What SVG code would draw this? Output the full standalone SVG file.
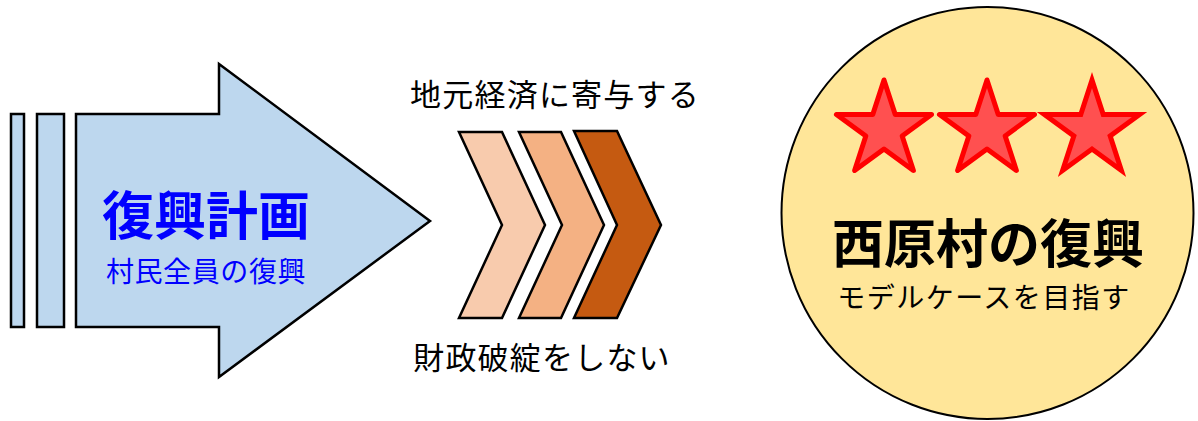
<svg xmlns="http://www.w3.org/2000/svg" width="1198" height="421" viewBox="0 0 1198 421">
<style>
.shape{stroke:#000;stroke-width:2.5;stroke-linejoin:miter}
.jp{font-family:"Noto Sans CJK JP","Noto Sans",sans-serif}
.lbl{font-size:31px;fill:#000;letter-spacing:1.2px}
.star{fill:#FF5050;stroke:#FF0000;stroke-width:5}
</style>
<defs>
<polygon id="starShape" points="0,-50 11.23,-15.45 47.55,-15.45 18.17,5.9 29.39,40.45 0,19.1 -29.39,40.45 -18.17,5.9 -47.55,-15.45 -11.23,-15.45"/>
</defs>
<rect width="1198" height="421" fill="#fff"/>
<g id="plan">
<rect class="shape" x="11" y="114" width="13" height="213" fill="#BDD7EE"/>
<rect class="shape" x="37" y="114" width="27" height="213" fill="#BDD7EE"/>
<polygon class="shape" points="76,114 219,114 219,64 430,221 219,377 219,327 76,327" fill="#BDD7EE"/>
<text class="jp" x="206" y="235" text-anchor="middle" font-size="52" font-weight="bold" fill="#0000FF">復興計画</text>
<text class="jp" x="206" y="282" text-anchor="middle" font-size="28" fill="#0000FF" letter-spacing="0.6">村民全員の復興</text>
</g>
<g id="chevrons">
<polygon class="shape" points="459,132 502,132 545,225 502,318 459,318 502,225" fill="#F8CBAD"/>
<polygon class="shape" points="519,132 561,132 604,225 561,318 519,318 562,225" fill="#F4B183"/>
<polygon class="shape" points="574,131 617,131 661,225 617,318 574,318 617,225" fill="#C55A11"/>
</g>
<g id="label-top"><text class="jp lbl" x="555" y="106" text-anchor="middle">地元経済に寄与する</text></g>
<g id="label-bottom"><text class="jp lbl" x="542" y="369" text-anchor="middle">財政破綻をしない</text></g>
<g id="goal">
<circle cx="987.5" cy="213" r="206" fill="#FFE699" stroke="#000" stroke-width="2"/>
<use href="#starShape" class="star" stroke-linejoin="round" transform="translate(884,130)"/>
<use href="#starShape" class="star" stroke-linejoin="round" transform="translate(987,130)"/>
<use href="#starShape" class="star" stroke-linejoin="miter" stroke-miterlimit="10" transform="translate(1092,130)"/>
<text class="jp" x="988" y="263" text-anchor="middle" font-size="52" font-weight="bold" fill="#000">西原村の復興</text>
<text class="jp" x="984" y="308" text-anchor="middle" font-size="28" fill="#000" letter-spacing="1.5">モデルケースを目指す</text>
</g>
<g id="connectors"></g>
</svg>
